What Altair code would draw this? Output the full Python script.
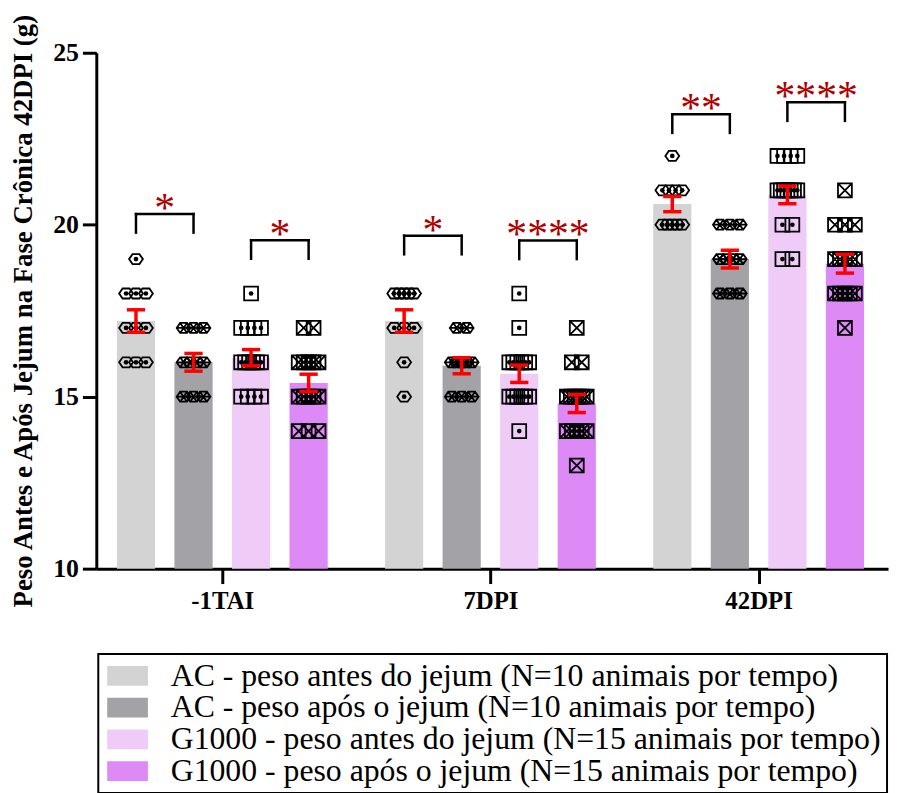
import json
import altair as alt
import pandas as pd

# ---------------- data ----------------
times = ["-1TAI", "7DPI", "42DPI"]
series_names = [
    "AC - peso antes do jejum (N=10 animais por tempo)",
    "AC - peso após o jejum (N=10 animais por tempo)",
    "G1000 - peso antes do jejum (N=15 animais por tempo)",
    "G1000 - peso após o jejum (N=15 animais por tempo)",
]
bar_colors = ["#d3d3d3", "#a3a2a7", "#efcbf8", "#dd89f6"]

ac_antes_1tai = [19, 18, 18, 18, 17, 17, 17, 16, 16, 16]
ac_antes_7dpi = [18, 18, 18, 18, 18, 17, 17, 17, 16, 15]
ac_antes_42dpi = [22, 21, 21, 21, 21, 20, 20, 20, 20, 20]

ac_apos_1tai = [17, 17, 17, 16, 16, 16, 16, 15, 15, 15]
ac_apos_7dpi = [17, 17, 16, 16, 16, 16, 16, 15, 15, 15]
ac_apos_42dpi = [20, 20, 20, 19, 19, 19, 19, 18, 18, 18]

g_antes_1tai = [18, 17, 17, 17, 17, 16, 16, 16, 16, 16, 16, 15, 15, 15, 15]
g_antes_7dpi = [18, 17, 16, 16, 16, 16, 16, 16, 15, 15, 15, 15, 15, 15, 14]
g_antes_42dpi = [22, 22, 22, 22, 21, 21, 21, 21, 21, 21, 21, 20, 20, 19, 19]

g_apos_1tai = [17, 17, 16, 16, 16, 16, 16, 15, 15, 15, 15, 15, 14, 14, 14]
g_apos_7dpi = [17, 16, 16, 15, 15, 15, 15, 15, 15, 14, 14, 14, 14, 14, 13]
g_apos_42dpi = [21, 20, 20, 20, 19, 19, 19, 19, 19, 18, 18, 18, 18, 18, 17]

values = {
    series_names[0]: [ac_antes_1tai, ac_antes_7dpi, ac_antes_42dpi],
    series_names[1]: [ac_apos_1tai, ac_apos_7dpi, ac_apos_42dpi],
    series_names[2]: [g_antes_1tai, g_antes_7dpi, g_antes_42dpi],
    series_names[3]: [g_apos_1tai, g_apos_7dpi, g_apos_42dpi],
}

# significance brackets
sig_time = ["-1TAI", "-1TAI", "7DPI", "7DPI", "42DPI", "42DPI"]
sig_left = [0, 2, 0, 2, 0, 2]
sig_right = [1, 3, 1, 3, 1, 3]
sig_y = [20.31, 19.55, 19.68, 19.54, 23.21, 23.56]
sig_label = ["*", "*", "*", "****", "**", "****"]

y_title = "Peso Antes e Após Jejum na Fase Crônica 42DPI (g)"

# ---------------- tables ----------------
rows = []
for si, s in enumerate(series_names):
    for ti, t in enumerate(times):
        for v in values[s][ti]:
            rows.append({"time": t, "series": s, "ti": ti, "si": si,
                         "marker": f"m{si}", "value": v})
df = pd.DataFrame(rows)

sig_df = pd.DataFrame({
    "time": sig_time,
    "ti": [times.index(t) for t in sig_time],
    "sl": sig_left,
    "sr": sig_right,
    "top": sig_y,
    "label": sig_label,
})

# ---------------- layout / style constants ----------------
FONT = "Liberation Serif"
W, H = 798, 520
G = 4.66            # group pitch in bar slots
PX = 58.0           # pixels per slot
XMIN = -40 / PX
XMAX = XMIN + W / PX
HALF_BAR = 38.5 / 2 / PX
HALF_CAP = 9.2 / PX
LEG = 0.54

xscale = alt.Scale(domain=[XMIN, XMAX], nice=False, zero=False)
yscale = alt.Scale(domain=[10, 25], nice=False, zero=False)

centers = [1.5 + i * G for i in range(len(times))]
label_expr = "datum.value < {:.3f} ? '{}' : datum.value < {:.3f} ? '{}' : '{}'".format(
    centers[0] + G / 2, times[0], centers[1] + G / 2, times[1], times[2])

xaxis = alt.Axis(values=centers, labelExpr=label_expr, title=None, grid=False,
                 labelFont=FONT, labelFontSize=25, labelFontWeight="bold",
                 labelColor="black", labelPadding=5, tickSize=15, tickWidth=3,
                 tickColor="black", domainColor="black", domainWidth=3,
                 labelFlush=False, labelOverlap=False)
yaxis = alt.Axis(values=[10, 15, 20, 25], title=y_title, grid=False,
                 labelFont=FONT, labelFontSize=26, labelFontWeight="bold",
                 labelColor="black", labelPadding=4, tickSize=14, tickWidth=3,
                 tickColor="black", domainColor="black", domainWidth=3,
                 titleFont=FONT, titleFontSize=27, titleFontWeight="bold",
                 titleColor="black", titleX=-73, titleBaseline="middle",
                 labelFlush=False)

hexa = "M-1,0L-0.5,-0.72L0.5,-0.72L1,0L0.5,0.72L-0.5,0.72Z"
hexa_lines = hexa + "M-1,0L1,0M-0.5,-0.72L0.5,0.72M0.5,-0.72L-0.5,0.72"
square = "M-1,-1L1,-1L1,1L-1,1Z"
square_x = square + "M-1,-1L1,1M1,-1L-1,1"
marker_keys = ["m0", "m1", "m2", "m3"]
shapes = [hexa, hexa_lines, square, square_x]

# legend swatch: 41 x 20 px rectangle drawn in a 30 px symbol box
legend_swatch = "M-0.867,-0.667L1.867,-0.667L1.867,0.667L-0.867,0.667Z"

xc_expr = f"datum.ti * {G} + datum.si"

base = alt.Chart(df)

# bars (means)
bars = base.transform_aggregate(
    m="mean(value)", groupby=["time", "series", "ti", "si"]
).transform_calculate(
    xc=xc_expr
).transform_calculate(
    x1=f"datum.xc - {HALF_BAR}", x2=f"datum.xc + {HALF_BAR}"
).mark_bar().encode(
    x=alt.X("x1:Q", scale=xscale, axis=xaxis),
    x2="x2:Q",
    y=alt.Y("m:Q", scale=yscale, axis=yaxis),
    y2=alt.datum(10),
    color=alt.Color(
        "series:N",
        scale=alt.Scale(domain=series_names, range=bar_colors),
        legend=alt.Legend(
            title=None, orient="none", legendX=2, legendY=606,
            labelFont=FONT, labelFontSize=32, labelColor="black",
            labelLimit=1000, labelOffset=35,
            symbolType=legend_swatch,
            symbolSize=900, symbolStrokeWidth=0, symbolOpacity=1,
            strokeColor="black", padding=6, rowPadding=0,
        ),
    ),
)

# individual points (spread horizontally when values coincide)
pts_base = base.transform_joinaggregate(
    n="count()", groupby=["time", "series", "value"]
).transform_window(
    r="row_number()", groupby=["time", "series", "value"]
).transform_calculate(
    sp="datum.n > 1 ? min(10, 20 / (datum.n - 1)) : 0",
).transform_calculate(
    xp=f"{xc_expr} + (datum.r - (datum.n + 1) / 2) * datum.sp / {PX}"
)

pts = pts_base.mark_point(filled=False, stroke="black", strokeWidth=1.8,
                          size=196, opacity=1).encode(
    x="xp:Q",
    y="value:Q",
    shape=alt.Shape("marker:N", scale=alt.Scale(domain=marker_keys, range=shapes),
                    legend=None),
)

dots = pts_base.transform_filter(
    "datum.si == 0 || datum.si == 2"
).mark_circle(size=22, color="black", opacity=1).encode(
    x="xp:Q", y="value:Q"
)

# error bars (mean ± SEM)
eb_base = base.transform_aggregate(
    m="mean(value)", se="stderr(value)", groupby=["time", "series", "ti", "si"]
).transform_calculate(
    xc=xc_expr
).transform_calculate(
    lo="datum.m - datum.se", hi="datum.m + datum.se",
    c1=f"datum.xc - {HALF_CAP}", c2=f"datum.xc + {HALF_CAP}"
)
RED = "#ff0000"
eb_v = eb_base.mark_rule(color=RED, strokeWidth=3.5).encode(
    x="xc:Q", y="lo:Q", y2="hi:Q")
eb_lo = eb_base.mark_rule(color=RED, strokeWidth=3.5).encode(
    x="c1:Q", x2="c2:Q", y="lo:Q")
eb_hi = eb_base.mark_rule(color=RED, strokeWidth=3.5).encode(
    x="c1:Q", x2="c2:Q", y="hi:Q")

# significance brackets
sig_base = alt.Chart(sig_df).transform_calculate(
    xl=f"datum.ti * {G} + datum.sl",
    xr=f"datum.ti * {G} + datum.sr",
    xm=f"datum.ti * {G} + (datum.sl + datum.sr) / 2",
    yb=f"datum.top - {LEG}",
)
br_h = sig_base.mark_rule(color="black", strokeWidth=2.5, strokeCap="square").encode(
    x="xl:Q", x2="xr:Q", y="top:Q")
br_l = sig_base.mark_rule(color="black", strokeWidth=2.5, strokeCap="square").encode(
    x="xl:Q", y="yb:Q", y2="top:Q")
br_r = sig_base.mark_rule(color="black", strokeWidth=2.5, strokeCap="square").encode(
    x="xr:Q", y="yb:Q", y2="top:Q")
stars = sig_base.mark_text(font=FONT, fontSize=42, color="#b00000",
                           baseline="alphabetic", align="center", dy=8).encode(
    x="xm:Q", y="top:Q", text="label:N")

chart = alt.layer(
    bars, pts, dots, eb_v, eb_lo, eb_hi, br_h, br_l, br_r, stars
).properties(
    width=W, height=H,
    padding={"left": 89, "top": 42, "right": 3, "bottom": 223},
    autosize=alt.AutoSizeParams(type="none"),
).configure_view(stroke=None).configure_legend(strokeWidth=2)

chart.save("out.html", embed_options={"renderer": "svg", "actions": False})
